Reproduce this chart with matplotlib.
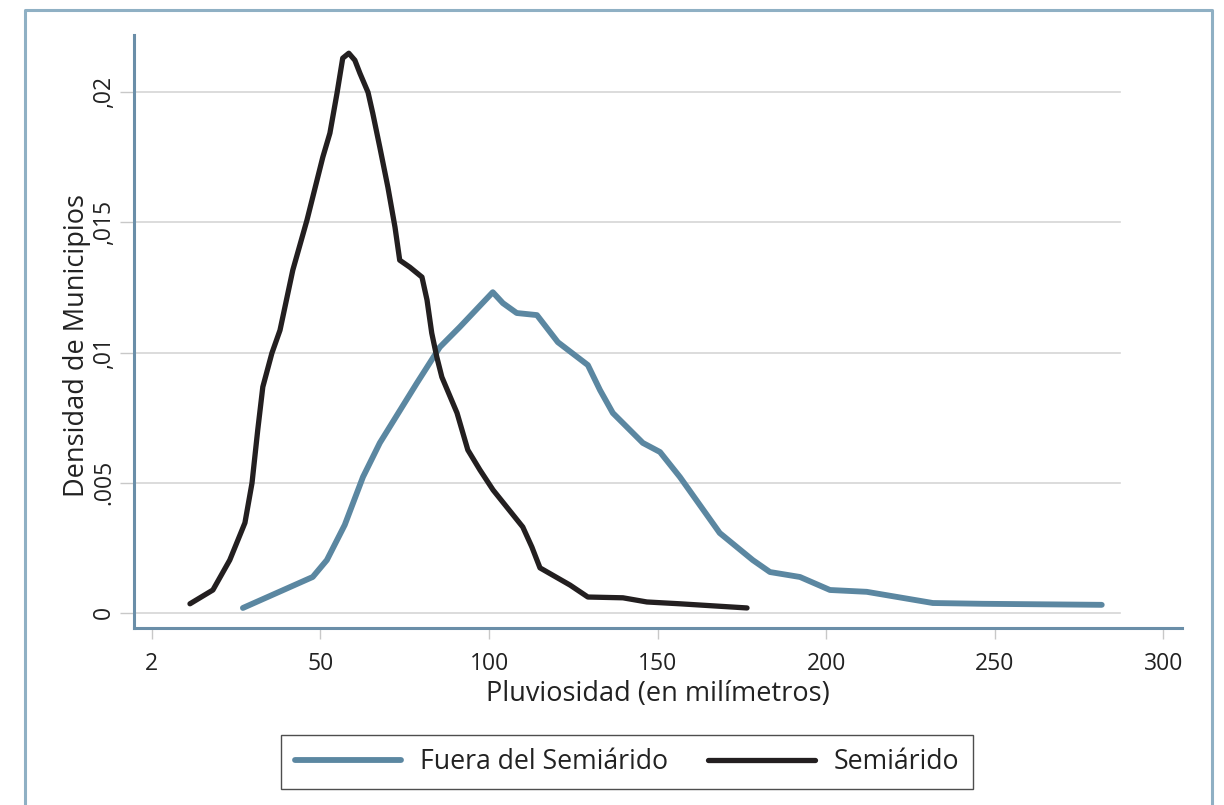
import matplotlib
matplotlib.use("Agg")
import matplotlib.pyplot as plt
from matplotlib.lines import Line2D

plt.rcParams['font.family'] = ['Open Sans', 'DejaVu Sans']

# ====================== datos ======================
# Semiárido (línea negra)
semi_x = [11.3, 18.1, 23.1, 27.6, 29.7, 31.4, 32.9, 35.6, 38.0, 41.8, 46.0, 50.7,
          52.8, 54.9, 56.6, 58.4, 60.2, 61.7, 64.1, 65.5, 67.6, 70.0, 72.1, 73.5,
          76.5, 80.1, 81.6, 83.0, 84.5, 86.0, 90.5, 93.7, 97.3, 101.2, 110.0, 112.7,
          115.1, 124.0, 129.3, 139.7, 146.8, 156.6, 176.5]
semi_y = [0.00035, 0.00088, 0.00203, 0.00346, 0.00499, 0.00703, 0.00868, 0.00998,
          0.01086, 0.01317, 0.01509, 0.01751, 0.01843, 0.01996, 0.02131, 0.02150,
          0.02123, 0.02073, 0.02000, 0.01920, 0.01789, 0.01635, 0.01482, 0.01355,
          0.01328, 0.01290, 0.01202, 0.01075, 0.00983, 0.00906, 0.00768, 0.00626,
          0.00549, 0.00472, 0.00330, 0.00253, 0.00173, 0.00107, 0.00061, 0.00058,
          0.00042, 0.00035, 0.00019]

# Fuera del Semiárido (línea azul)
fuera_x = [27.0, 47.7, 51.9, 57.2, 62.6, 67.6, 78.6, 85.4, 91.3, 101.1, 104.1, 108.2,
           114.2, 120.4, 129.3, 132.9, 136.7, 145.6, 150.7, 156.6, 168.4, 178.2,
           183.3, 192.2, 201.1, 212.0, 231.6, 246.4, 281.7]
fuera_y = [0.00019, 0.00138, 0.00203, 0.00338, 0.00522, 0.00653, 0.00883, 0.01021,
           0.01098, 0.01232, 0.01190, 0.01152, 0.01144, 0.01040, 0.00952, 0.00856,
           0.00768, 0.00653, 0.00618, 0.00522, 0.00307, 0.00203, 0.00157, 0.00138,
           0.00088, 0.00081, 0.00038, 0.00035, 0.00031]

xticks = [0, 50, 100, 150, 200, 250, 300]
xtick_labels = ['2', '50', '100', '150', '200', '250', '300']
yticks = [0, 0.005, 0.01, 0.015, 0.02]
ytick_labels = ['0', '.005', ',01', ',015', ',02']

azul = '#5b87a1'
negro = '#231f20'

# ====================== figura ======================
fig = plt.figure(figsize=(12.24, 8.05), dpi=100)
ax = fig.add_axes([134 / 1224, 1 - 628 / 805, (1182 - 134) / 1224, (628 - 35) / 805])

# lineas de cuadricula (terminan antes del final del eje)
for yv in yticks:
    ax.axhline(yv, xmin=0, xmax=0.941, color='#d6d6d6', lw=1.2, zorder=1)

l1, = ax.plot(fuera_x, fuera_y, color=azul, lw=4.2, solid_capstyle='round',
              solid_joinstyle='round', zorder=3, label='Fuera del Semiárido')
l2, = ax.plot(semi_x, semi_y, color=negro, lw=3.8, solid_capstyle='round',
              solid_joinstyle='round', zorder=4, label='Semiárido')

ax.set_xlim(-5.3, 305.5)
ax.set_ylim(-0.00058, 0.0222)

ax.set_xticks(xticks)
ax.set_xticklabels(xtick_labels, fontsize=16.5, color='#222222')
ax.set_yticks(yticks)
ax.set_yticklabels(ytick_labels, fontsize=16.5, color='#222222', rotation=90, va='center')
ax.tick_params(axis='x', length=8, width=1, color='#c8c8c8', pad=9)
ax.tick_params(axis='y', length=10, width=1, color='#c8c8c8', pad=3)

for s in ['top', 'right']:
    ax.spines[s].set_visible(False)
for s in ['left', 'bottom']:
    ax.spines[s].set_color('#6a8ea8')
    ax.spines[s].set_linewidth(2.2)

ax.set_xlabel('Pluviosidad (en milímetros)', fontsize=19.5, color='#222222', labelpad=3)
ax.set_ylabel('Densidad de Municipios', fontsize=19.5, color='#222222')
ax.yaxis.set_label_coords(-0.041, 0.477)

# leyenda
leg = fig.legend(handles=[l1, l2], loc='center', bbox_to_anchor=(627 / 1224, 1 - 762 / 805),
                 ncol=2, fontsize=19.2, frameon=True, fancybox=False, handlelength=4.0,
                 columnspacing=1.5, handletextpad=0.7, borderpad=0.5)
leg.get_frame().set_edgecolor('#222222')
leg.get_frame().set_linewidth(1.0)
for t in leg.get_texts():
    t.set_color('#222222')

# marco exterior
marco = Line2D([25 / 1224, 25 / 1224, 1212 / 1224, 1212 / 1224],
               [0, 1 - 10 / 805, 1 - 10 / 805, 0],
               transform=fig.transFigure, color='#8fb0c4', lw=2.2)
fig.add_artist(marco)

fig.savefig('out.png', dpi=100)
